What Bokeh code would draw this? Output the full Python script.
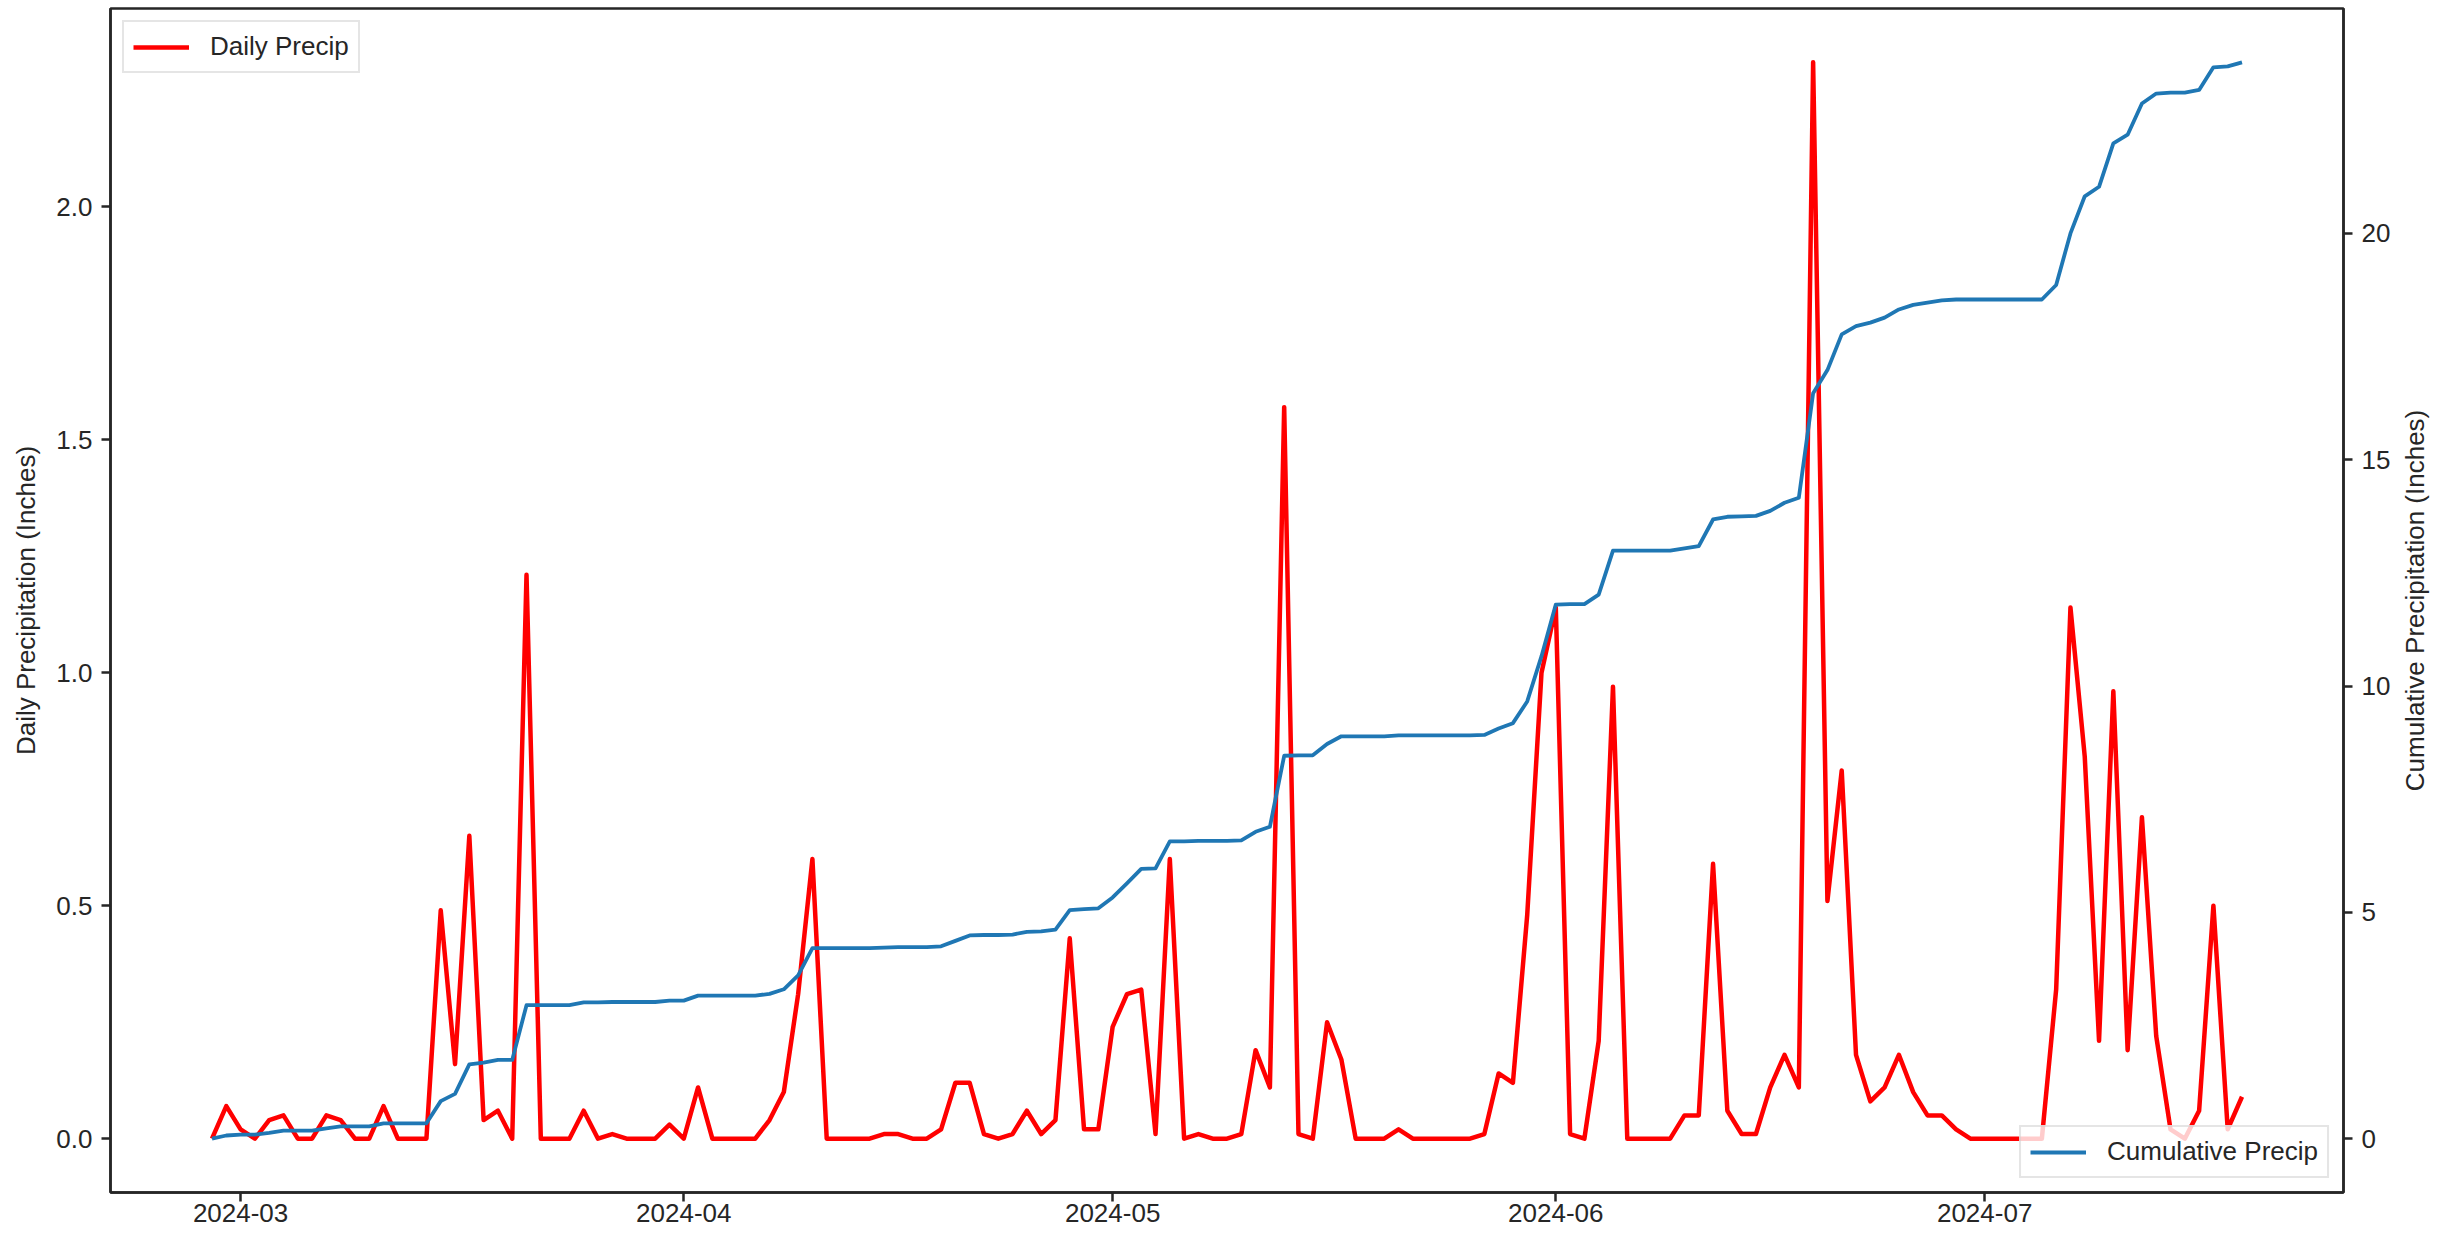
import pandas as pd
from bokeh.plotting import figure
from bokeh.layouts import row
from bokeh.models import (Range1d, LinearAxis, FixedTicker, DatetimeTickFormatter,
                          PrintfTickFormatter, Legend, LegendItem, ColumnDataSource)
from bokeh.embed import file_html
from bokeh.resources import INLINE

# ---------------- data ----------------
start_date = "2024-02-28"
end_date = "2024-07-19"
dates = pd.date_range(start_date, end_date, freq="D")

daily_precip = [
    0.00, 0.07, 0.02, 0.00, 0.04, 0.05, 0.00, 0.00, 0.05, 0.04,
    0.00, 0.00, 0.07, 0.00, 0.00, 0.00, 0.49, 0.16, 0.65, 0.04,
    0.06, 0.00, 1.21, 0.00, 0.00, 0.00, 0.06, 0.00, 0.01, 0.00,
    0.00, 0.00, 0.03, 0.00, 0.11, 0.00, 0.00, 0.00, 0.00, 0.04,
    0.10, 0.31, 0.60, 0.00, 0.00, 0.00, 0.00, 0.01, 0.01, 0.00,
    0.00, 0.02, 0.12, 0.12, 0.01, 0.00, 0.01, 0.06, 0.01, 0.04,
    0.43, 0.02, 0.02, 0.24, 0.31, 0.32, 0.01, 0.60, 0.00, 0.01,
    0.00, 0.00, 0.01, 0.19, 0.11, 1.57, 0.01, 0.00, 0.25, 0.17,
    0.00, 0.00, 0.00, 0.02, 0.00, 0.00, 0.00, 0.00, 0.00, 0.01,
    0.14, 0.12, 0.48, 1.00, 1.14, 0.01, 0.00, 0.21, 0.97, 0.00,
    0.00, 0.00, 0.00, 0.05, 0.05, 0.59, 0.06, 0.01, 0.01, 0.11,
    0.18, 0.11, 2.31, 0.51, 0.79, 0.18, 0.08, 0.11, 0.18, 0.10,
    0.05, 0.05, 0.02, 0.00, 0.00, 0.00, 0.00, 0.00, 0.00, 0.32,
    1.14, 0.82, 0.21, 0.96, 0.19, 0.69, 0.22, 0.02, 0.00, 0.06,
    0.50, 0.02, 0.09,
]

cumulative_precip = [
    0.00, 0.07, 0.09, 0.09, 0.13, 0.18, 0.18, 0.18, 0.23, 0.27,
    0.27, 0.27, 0.34, 0.34, 0.34, 0.34, 0.83, 0.99, 1.64, 1.68,
    1.74, 1.74, 2.95, 2.95, 2.95, 2.95, 3.01, 3.01, 3.02, 3.02,
    3.02, 3.02, 3.05, 3.05, 3.16, 3.16, 3.16, 3.16, 3.16, 3.20,
    3.30, 3.61, 4.21, 4.21, 4.21, 4.21, 4.21, 4.22, 4.23, 4.23,
    4.23, 4.25, 4.37, 4.49, 4.50, 4.50, 4.51, 4.57, 4.58, 4.62,
    5.05, 5.07, 5.09, 5.33, 5.64, 5.96, 5.97, 6.57, 6.57, 6.58,
    6.58, 6.58, 6.59, 6.78, 6.89, 8.46, 8.47, 8.47, 8.72, 8.89,
    8.89, 8.89, 8.89, 8.91, 8.91, 8.91, 8.91, 8.91, 8.91, 8.92,
    9.06, 9.18, 9.66, 10.66, 11.80, 11.81, 11.81, 12.02, 12.99, 12.99,
    12.99, 12.99, 12.99, 13.04, 13.09, 13.68, 13.74, 13.75, 13.76, 13.87,
    14.05, 14.16, 16.47, 16.98, 17.77, 17.95, 18.03, 18.14, 18.32, 18.42,
    18.47, 18.52, 18.54, 18.54, 18.54, 18.54, 18.54, 18.54, 18.54, 18.86,
    20.00, 20.82, 21.03, 21.99, 22.18, 22.87, 23.09, 23.11, 23.11, 23.17,
    23.67, 23.69, 23.78,
]

month_ticks = ["2024-03-01", "2024-04-01", "2024-05-01", "2024-06-01", "2024-07-01"]
daily_ticks = [0.0, 0.5, 1.0, 1.5, 2.0]
cum_ticks = [0, 5, 10, 15, 20]

daily_label = "Daily Precipitation (Inches)"
cum_label = "Cumulative Precipitation (Inches)"
daily_legend = "Daily Precip"
cum_legend = "Cumulative Precip"

assert len(daily_precip) == len(dates) == len(cumulative_precip)

# ---------------- styling ----------------
FONT = "Liberation Sans"
FSIZE = "26px"
TXT = "#262626"
AX = "#262626"

src = ColumnDataSource(dict(date=dates, daily=daily_precip, cum=cumulative_precip))

# matplotlib-like 5% margins
xpad = (dates[-1] - dates[0]) * 0.05
x_start, x_end = dates[0] - xpad, dates[-1] + xpad
dmin, dmax = min(daily_precip), max(daily_precip)
dpad = (dmax - dmin) * 0.05
cmin, cmax = min(cumulative_precip), max(cumulative_precip)
cpad = (cmax - cmin) * 0.05

W_MAIN, W_SIDE, H = 2396, 60, 1236
TOP, BOTTOM = 8, 44
p = figure(width=W_MAIN, height=H, x_axis_type="datetime",
           output_backend="svg", toolbar_location=None,
           x_range=Range1d(x_start, x_end),
           y_range=Range1d(dmin - dpad, dmax + dpad),
           min_border_left=110, min_border_right=53,
           min_border_top=TOP, min_border_bottom=BOTTOM)
p.extra_y_ranges = {"cum": Range1d(cmin - cpad, cmax + cpad)}

p.background_fill_color = "white"
p.border_fill_color = "white"
p.outline_line_color = AX
p.outline_line_width = 2.5
p.xgrid.visible = False
p.ygrid.visible = False


def style_axis(ax):
    ax.axis_line_color = AX
    ax.axis_line_width = 2.5
    ax.major_tick_line_color = AX
    ax.major_tick_line_width = 2.5
    ax.major_tick_out = 9
    ax.major_tick_in = 0
    ax.minor_tick_line_color = None
    ax.major_label_text_font = FONT
    ax.major_label_text_font_size = FSIZE
    ax.major_label_text_color = TXT
    ax.axis_label_text_font = FONT
    ax.axis_label_text_font_size = FSIZE
    ax.axis_label_text_color = TXT
    ax.axis_label_text_font_style = "normal"


# x axis
xa = p.xaxis[0]
style_axis(xa)
xa.ticker = FixedTicker(ticks=[pd.Timestamp(d).value / 1e6 for d in month_ticks])
xa.formatter = DatetimeTickFormatter(days="%Y-%m", months="%Y-%m", years="%Y-%m")
xa.major_label_standoff = 2

# left axis
ya = p.yaxis[0]
style_axis(ya)
ya.ticker = FixedTicker(ticks=daily_ticks)
ya.formatter = PrintfTickFormatter(format="%.1f")
ya.axis_label = daily_label
ya.major_label_standoff = 9
ya.axis_label_standoff = 12

# right axis (ticks only; its title sits in the narrow side panel below)
ra = LinearAxis(y_range_name="cum")
style_axis(ra)
ra.ticker = FixedTicker(ticks=cum_ticks)
ra.formatter = PrintfTickFormatter(format="%d")
ra.major_label_standoff = 9
p.add_layout(ra, "right")

# lines
r_daily = p.line("date", "daily", source=src, line_color="#ff0000",
                 line_width=4.5, line_join="round")
r_cum = p.line("date", "cum", source=src, y_range_name="cum",
               line_color="#1f77b4", line_width=3.8, line_join="round")


def make_legend(label, rend, loc, margin):
    lg = Legend(items=[LegendItem(label=label, renderers=[rend])], location=loc)
    lg.margin = margin
    lg.padding = 9
    lg.spacing = 0
    lg.glyph_width = 56
    lg.glyph_height = 28
    lg.label_standoff = 21
    lg.label_text_font = FONT
    lg.label_text_font_size = FSIZE
    lg.label_text_color = TXT
    lg.border_line_color = "#cccccc"
    lg.border_line_width = 2
    lg.background_fill_color = "white"
    lg.background_fill_alpha = 0.8
    return lg


p.add_layout(make_legend(daily_legend, r_daily, "top_left", 12))
p.add_layout(make_legend(cum_legend, r_cum, "bottom_right", 14))

# narrow side panel that carries the right-hand axis title (reads bottom-to-top)
p2 = figure(width=W_SIDE, height=H, output_backend="svg", toolbar_location=None,
            x_range=Range1d(0, 1), y_range=Range1d(0, 1),
            min_border_left=0, min_border_right=0,
            min_border_top=TOP, min_border_bottom=BOTTOM)
p2.outline_line_color = None
p2.background_fill_color = "white"
p2.border_fill_color = "white"
p2.xgrid.visible = False
p2.ygrid.visible = False
p2.xaxis.visible = False
sa = p2.yaxis[0]
sa.ticker = FixedTicker(ticks=[])
sa.major_tick_out = 0
sa.major_tick_in = 0
sa.minor_tick_line_color = None
sa.axis_line_color = None
sa.major_label_text_font_size = "0px"
sa.axis_label = cum_label
sa.axis_label_standoff = 0
sa.axis_label_text_font = FONT
sa.axis_label_text_font_size = FSIZE
sa.axis_label_text_color = TXT
sa.axis_label_text_font_style = "normal"

layout = row(p, p2, spacing=0)
open("out.html", "w").write(file_html(layout, INLINE))
